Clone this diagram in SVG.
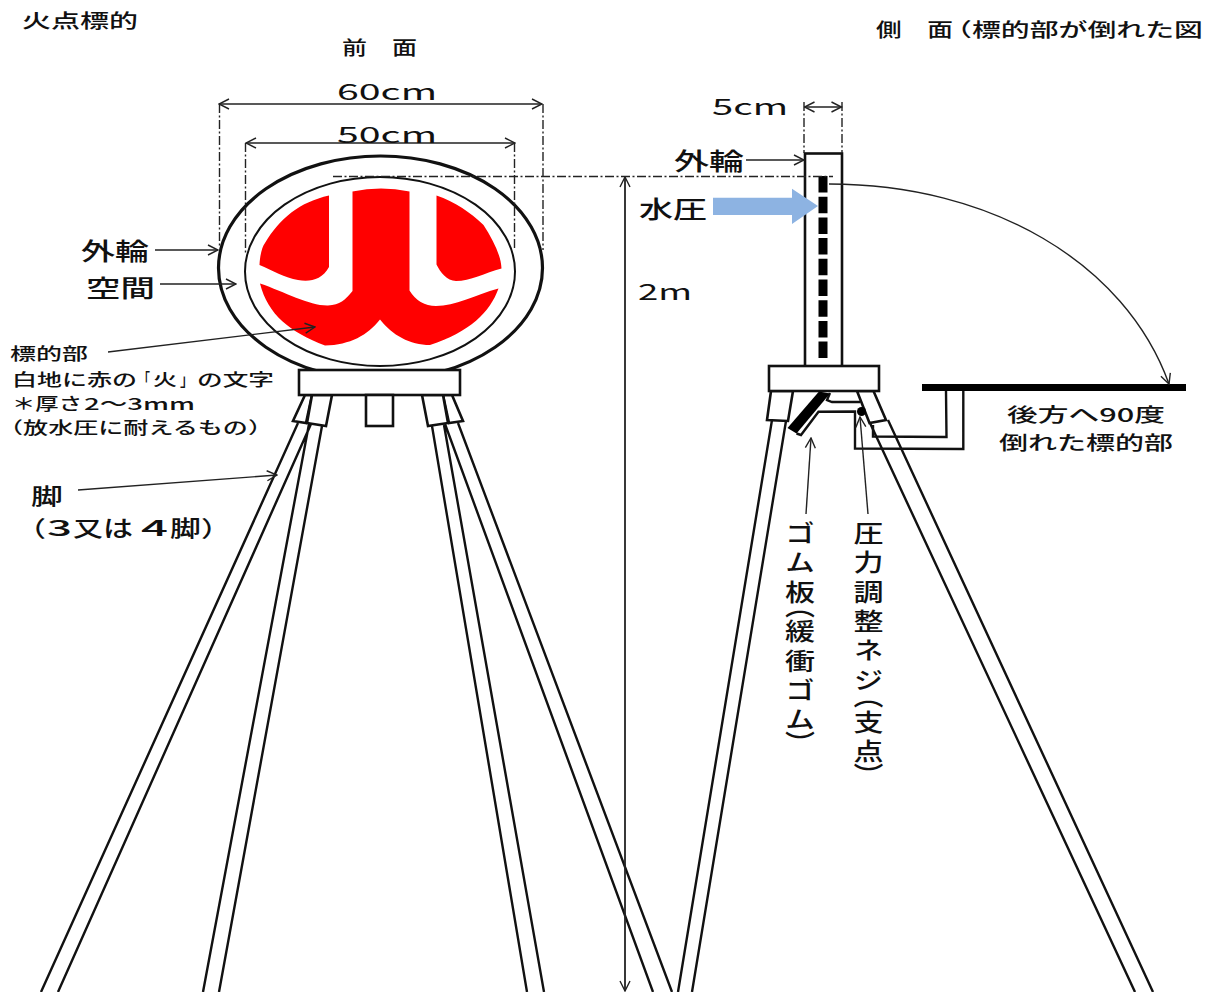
<svg xmlns="http://www.w3.org/2000/svg" width="1219" height="992" viewBox="0 0 1219 992">
<style>
text{font-family:"Noto Sans CJK JP","Noto Sans",sans-serif;fill:#111;font-weight:500}
.s16{font-size:16.500px}.s19{font-size:19px}.s22{font-size:22px}.s24{font-size:24px}
.n{font-weight:400}
.v{writing-mode:vertical-rl;font-size:24px;letter-spacing:5.300px}
.ln{fill:none;stroke:#111;stroke-width:2.400}
.box{fill:#fff;stroke:#111;stroke-width:2.600}
.dim{fill:none;stroke:#222;stroke-width:1.400;stroke-dasharray:9 2.500 2 2.500}
.ar{fill:none;stroke:#222;stroke-width:1.400}
.arrow{marker-end:url(#o)}
.both{marker-start:url(#os);marker-end:url(#o)}
.red{fill:#f00}
</style>
<defs>
<marker id="o" viewBox="0 0 12 12" refX="11" refY="6" markerWidth="12" markerHeight="12" markerUnits="userSpaceOnUse" orient="auto"><path d="M1,1 L11,6 L1,11" fill="none" stroke="#222" stroke-width="1.400"/></marker>
<marker id="os" viewBox="0 0 12 12" refX="1" refY="6" markerWidth="12" markerHeight="12" markerUnits="userSpaceOnUse" orient="auto"><path d="M11,1 L1,6 L11,11" fill="none" stroke="#222" stroke-width="1.400"/></marker>
</defs>
<rect width="1219" height="992" fill="#fff"/>

<g id="titles">
<text class="s19" x="22" y="27.500" textLength="116" lengthAdjust="spacingAndGlyphs">火点標的</text>
<text class="s19" x="342" y="54.500" textLength="75" lengthAdjust="spacingAndGlyphs">前　面</text>
<text class="s19" x="876" y="36.500"><tspan textLength="77" lengthAdjust="spacingAndGlyphs">側　面</tspan><tspan x="943" textLength="260" lengthAdjust="spacingAndGlyphs">（標的部が倒れた図</tspan></text>
</g>

<g id="front-legs">
<path class="ln" d="M298,423 L41,992 M311,424 L58,992 M309,424 L203,992 M322,426 L219,992"/>
<path class="ln" d="M432,426 L527,992 M444,425 L544,992 M445,424 L653,992 M458,423 L672,992"/>
<path class="box" d="M305,395 L293,421 L306,423 L312,395Z"/>
<path class="box" d="M312,395 L307,423 L326,426 L332,395Z"/>
<path class="box" d="M452,395 L463,421 L449,423 L443,395Z"/>
<path class="box" d="M422,395 L428,426 L448,423 L443,395Z"/>
</g>

<g id="front-target">
<ellipse cx="380.500" cy="268" rx="162" ry="112" fill="#fff" stroke="#111" stroke-width="3.200"/>
<ellipse cx="380" cy="271.500" rx="135" ry="94.500" fill="#fff" stroke="#111" stroke-width="2"/>
<path class="red" d="M352.500,191.500 Q381,185.500 409.500,191.500 L409.500,290.500 Q419,306 436,306 C455,306 475,295 498.500,288.500 C490,312 470,332 430,345 C410,345 392,335 380,319.500 C368,335 350,345 325,345.500 C290,332 268,315 260,283.500 C285,292 310,306 328,305.500 C340,305 345,300 352.500,291Z"/>
<path class="red" d="M329,195.500 L329,267 C322,280 310,282 298,280 C285,278 272,270 259.500,265 C260,255 262,247 265,243 C280,218 300,202 329,195.500Z"/>
<path class="red" d="M436.500,195.500 C455,202 470,212 483.500,225 C493,240 501,255 501.500,268.500 C485,273 470,281 456,281 C447,281 440,272 436.500,264.500Z"/>
</g>

<g id="front-base">
<rect class="box" x="299" y="370" width="161" height="25"/>
<rect class="box" x="366" y="395" width="27" height="31"/>
</g>

<g id="side-legs">
<path class="ln" d="M772,420 L678,992 M786,421 L692,992 M870,423 L1135,992 M888,420 L1153,992"/>
<path class="box" d="M771,391 L767,420 L788,421 L793,391Z"/>
<path class="ln" d="M873,425 L873,436.500 L946.500,437 L946,391"/>
<path class="box" d="M857,391 L869.500,423 L886,420 L873.500,391Z"/>
</g>

<g id="side-target">
<rect class="box" x="805" y="153.500" width="37" height="213"/>
<path d="M823,176 V362" fill="none" stroke="#000" stroke-width="9" stroke-dasharray="16.500 4.200"/>
<rect class="box" x="769" y="366" width="110" height="25"/>
</g>

<g id="side-fallen">
<rect x="922" y="384" width="264" height="7" fill="#000"/>
</g>

<g id="side-rubber">
<path class="ln" d="M963.300,391 V449 L855,448.500 V411.500 L818.500,411.700 L801,435 L796.500,433.500 M830,393 L827,400 L832,402 H860"/>
<path d="M819,391.500 L830,393.500 L796.500,433.500 L787.500,428Z" fill="#000"/>
<circle cx="861.500" cy="411.500" r="4.500" fill="#000"/>
</g>

<g id="connectors">
<path class="dim" d="M219.500,104 V248 M543,104 V250 M245.500,143 V255 M514.500,143 V250 M333,176.500 H833 M804,102 V153 M842,102 V153"/>
<path class="ar both" d="M219,104 H542"/>
<path class="ar both" d="M246,143 H515"/>
<path class="ar both" d="M804.500,107 H841.500"/>
<path class="ar both" d="M625,177 V991" style="stroke-width:1.800"/>
<path class="ar arrow" d="M746,160 H804"/>
<path class="ar arrow" d="M155,250 H218"/>
<path class="ar arrow" d="M160,284 H236"/>
<path class="ar arrow" d="M108,352 L315,327"/>
<path class="ar arrow" d="M78,490 L277,475"/>
<path class="ar arrow" d="M806,514 L811,438"/>
<path class="ar arrow" d="M868,514 L860,417"/>
<path class="ar arrow" d="M829,184 C990,184 1125,262 1169,384"/>
<path d="M713,197.700 H792 V188.700 L818,206 L792,224 V215 H713Z" fill="#8db3e2"/>
</g>

<g id="labels">
<text class="s22 n" x="337" y="100" textLength="100" lengthAdjust="spacingAndGlyphs">60cm</text>
<text class="s22 n" x="337" y="143" textLength="100" lengthAdjust="spacingAndGlyphs">50cm</text>
<text class="s22 n" x="712" y="115" textLength="76" lengthAdjust="spacingAndGlyphs">5cm</text>
<text class="s24" x="674" y="170" textLength="70" lengthAdjust="spacingAndGlyphs">外輪</text>
<text class="s24" x="639" y="218" textLength="68" lengthAdjust="spacingAndGlyphs">水圧</text>
<text class="s22 n" x="638" y="300" textLength="54" lengthAdjust="spacingAndGlyphs">2m</text>
<text class="s24" x="81" y="260" textLength="68" lengthAdjust="spacingAndGlyphs">外輪</text>
<text class="s24" x="86" y="297" textLength="69" lengthAdjust="spacingAndGlyphs">空間</text>
<text class="s16" x="10" y="360" textLength="78" lengthAdjust="spacingAndGlyphs">標的部</text>
<text class="s16" y="386"><tspan x="12" textLength="125" lengthAdjust="spacingAndGlyphs">白地に赤の</tspan><tspan x="138" textLength="12" lengthAdjust="spacingAndGlyphs">「</tspan><tspan x="153" textLength="24" lengthAdjust="spacingAndGlyphs">火</tspan><tspan x="180" textLength="14" lengthAdjust="spacingAndGlyphs">」</tspan><tspan x="197" textLength="77" lengthAdjust="spacingAndGlyphs">の文字</tspan></text>
<text class="s16" y="410"><tspan x="12" textLength="70" lengthAdjust="spacingAndGlyphs">＊厚さ</tspan><tspan x="84" textLength="111" lengthAdjust="spacingAndGlyphs">2～3mm</tspan></text>
<text class="s16" x="-2" y="434" textLength="275" lengthAdjust="spacingAndGlyphs">（放水圧に耐えるもの）</text>
<text class="s22" x="31" y="504" textLength="32" lengthAdjust="spacingAndGlyphs">脚</text>
<text class="s22" y="536"><tspan x="16" textLength="30" lengthAdjust="spacingAndGlyphs">（</tspan><tspan x="47" textLength="25" lengthAdjust="spacingAndGlyphs">3</tspan><tspan x="73" textLength="60" lengthAdjust="spacingAndGlyphs">又は</tspan><tspan x="141" textLength="27" lengthAdjust="spacingAndGlyphs">4</tspan><tspan x="170" textLength="31" lengthAdjust="spacingAndGlyphs">脚</tspan><tspan x="201" textLength="30" lengthAdjust="spacingAndGlyphs">）</tspan></text>
<text class="s19" x="1007" y="422" textLength="158" lengthAdjust="spacingAndGlyphs">後方へ90度</text>
<text class="s19" x="999" y="450" textLength="174" lengthAdjust="spacingAndGlyphs">倒れた標的部</text>
<g transform="translate(800,0) scale(1.250,1)"><text class="v" x="0" y="521">ゴム板<tspan y="594">（</tspan><tspan y="619">緩衝ゴム</tspan><tspan y="731">）</tspan></text></g>
<g transform="translate(868.500,0) scale(1.250,1)"><text class="v" x="0" y="521">圧力調整ネジ<tspan y="684">（</tspan><tspan y="710">支点</tspan><tspan y="763">）</tspan></text></g>
</g>
</svg>
